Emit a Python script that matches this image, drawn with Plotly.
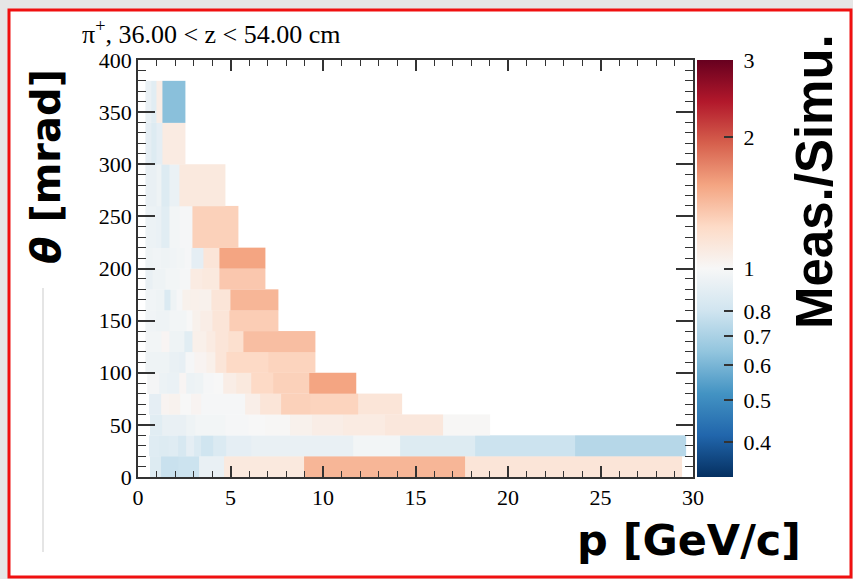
import numpy as np
import plotly.graph_objects as go

# ---------------- data ----------------
theta_edges = [0, 20, 40, 60, 80, 100, 120, 140, 160, 180, 200, 220, 260, 300, 340, 380]

p_edges_000_020 = [0.65, 1.25, 2.15, 3.3, 4.65, 8.95, 17.7, 29.4]
ratio_000_020 = [0.86, 0.78, 0.79, 0.92, 1.12, 1.45, 1.15]

p_edges_020_040 = [0.6, 1.15, 1.6, 2.15, 2.6, 3.05, 3.4, 4.05, 4.75, 6.1, 8.2, 11.6, 14.15, 18.2, 23.6, 29.65]
ratio_020_040 = [0.87, 0.86, 0.87, 0.83, 0.9, 0.85, 0.8, 0.85, 0.9, 0.92, 0.92, 0.97, 0.86, 0.79, 0.73]

p_edges_040_060 = [0.65, 1.3, 2.6, 3.1, 4.7, 5.95, 6.85, 8.2, 9.4, 11.1, 13.35, 16.5, 19.05]
ratio_040_060 = [0.88, 0.92, 0.95, 0.97, 0.99, 1.0, 1.01, 1.05, 1.08, 1.1, 1.13, 1.01]

p_edges_060_080 = [0.6, 1.25, 1.7, 2.25, 2.85, 3.4, 4.6, 5.8, 6.6, 7.75, 9.3, 11.9, 14.3]
ratio_060_080 = [0.9, 1.03, 1.04, 1.0, 1.03, 0.99, 0.99, 1.07, 1.15, 1.3, 1.28, 1.15]

p_edges_080_100 = [0.5, 1.15, 1.6, 2.25, 2.6, 3.05, 3.5, 4.05, 4.6, 5.3, 6.1, 7.3, 9.25, 11.8]
ratio_080_100 = [0.98, 0.94, 0.93, 1.02, 0.94, 0.95, 0.99, 1.0, 1.08, 1.12, 1.25, 1.3, 1.55]

p_edges_100_120 = [0.4, 1.0, 1.7, 2.25, 2.55, 3.05, 3.7, 4.2, 4.8, 5.7, 7.05, 9.6]
ratio_100_120 = [0.95, 0.95, 0.92, 0.91, 0.99, 1.03, 1.06, 1.15, 1.25, 1.25, 1.28]

p_edges_120_140 = [0.4, 1.25, 1.7, 2.5, 2.95, 3.7, 4.2, 4.9, 5.7, 9.6]
ratio_120_140 = [0.97, 1.02, 0.95, 0.88, 1.06, 1.1, 1.15, 1.2, 1.4]

p_edges_140_160 = [0.4, 1.0, 1.7, 2.6, 2.95, 3.35, 4.0, 4.95, 7.6]
ratio_140_160 = [0.96, 0.95, 0.97, 1.0, 1.05, 1.08, 1.15, 1.32]

p_edges_160_180 = [0.4, 1.0, 1.4, 1.75, 2.05, 2.4, 2.85, 3.3, 3.95, 5.0, 7.6]
ratio_160_180 = [0.96, 0.95, 0.85, 0.95, 0.99, 1.05, 1.06, 1.05, 1.15, 1.45]

p_edges_180_200 = [0.4, 0.8, 1.5, 2.25, 2.85, 3.5, 4.4, 6.9]
ratio_180_200 = [0.92, 0.95, 0.97, 0.99, 1.1, 1.12, 1.35]

p_edges_200_220 = [0.4, 0.8, 1.25, 1.7, 2.05, 2.5, 2.9, 3.55, 4.4, 6.9]
ratio_200_220 = [0.95, 0.96, 0.95, 0.96, 0.97, 0.99, 0.9, 1.15, 1.55]

p_edges_220_260 = [0.4, 1.0, 1.25, 1.7, 2.25, 2.95, 5.45]
ratio_220_260 = [0.94, 0.93, 0.88, 0.97, 0.99, 1.3]

p_edges_260_300 = [0.4, 1.0, 1.25, 1.7, 2.25, 4.75]
ratio_260_300 = [0.92, 0.95, 0.86, 0.93, 1.12]

p_edges_300_340 = [0.4, 0.7, 1.0, 1.3, 2.55]
ratio_300_340 = [0.9, 0.86, 0.9, 1.1]

p_edges_340_380 = [0.4, 0.7, 1.0, 1.3, 2.55]
ratio_340_380 = [0.93, 0.88, 1.08, 0.63]

row_p_edges = [p_edges_000_020, p_edges_020_040, p_edges_040_060, p_edges_060_080,
               p_edges_080_100, p_edges_100_120, p_edges_120_140, p_edges_140_160,
               p_edges_160_180, p_edges_180_200, p_edges_200_220, p_edges_220_260,
               p_edges_260_300, p_edges_300_340, p_edges_340_380]
row_ratios = [ratio_000_020, ratio_020_040, ratio_040_060, ratio_060_080,
              ratio_080_100, ratio_100_120, ratio_120_140, ratio_140_160,
              ratio_160_180, ratio_180_200, ratio_200_220, ratio_220_260,
              ratio_260_300, ratio_300_340, ratio_340_380]

cbar_ticks = [0.4, 0.5, 0.6, 0.7, 0.8, 1, 2, 3]
cbar_labels = ["0.4", "0.5", "0.6", "0.7", "0.8", "1", "2", "3"]
x_ticks = [0, 5, 10, 15, 20, 25, 30]
y_ticks = [0, 50, 100, 150, 200, 250, 300, 350, 400]

# ---------------- figure ----------------
rdbu_r = ['rgb(5,48,97)', 'rgb(33,102,172)', 'rgb(67,147,195)', 'rgb(146,197,222)',
          'rgb(209,229,240)', 'rgb(247,247,247)', 'rgb(253,219,199)', 'rgb(244,165,130)',
          'rgb(214,96,77)', 'rgb(178,24,43)', 'rgb(103,0,31)']
colorscale = [[i / (len(rdbu_r) - 1), c] for i, c in enumerate(rdbu_r)]

fig = go.Figure()
for i, (pe, rv) in enumerate(zip(row_p_edges, row_ratios)):
    assert len(pe) == len(rv) + 1, i
    fig.add_trace(go.Heatmap(
        x=pe, y=[theta_edges[i], theta_edges[i + 1]],
        z=[list(np.log10(rv))], coloraxis="coloraxis",
        customdata=[rv], hovertemplate="p=%{x}<br>θ=%{y}<br>ratio=%{customdata:.2f}<extra></extra>"))

W, H = 853, 579
L, R, T, B = 138, 160, 60, 102
pw, ph = W - L - R, H - T - B

def px(x):
    return (x - L) / pw

def py(y):
    return (H - B - y) / ph

serif = "Liberation Serif"
sans_b = "DejaVu Sans"
lm = np.log10(3)
nb = "\u00a0"

fig.update_layout(
    width=W, height=H,
    margin=dict(l=L, r=R, t=T, b=B),
    paper_bgcolor="#e6e6e6",
    plot_bgcolor="white",
    coloraxis=dict(
        colorscale=colorscale, cmin=-lm, cmax=lm,
        colorbar=dict(
            x=px(697), xanchor="left", xpad=0, ypad=0,
            y=0.5, yanchor="middle", len=1, lenmode="fraction",
            thickness=36, thicknessmode="pixels",
            outlinewidth=0,
            tickvals=list(np.log10(cbar_ticks)), ticktext=[nb + t for t in cbar_labels],
            ticks="inside", ticklen=9, tickwidth=1.5, tickcolor="#333",
            tickfont=dict(family=serif, size=22, color="black"),
        ),
    ),
    xaxis=dict(
        range=[0, 30], tickvals=x_ticks, ticks="inside", ticklen=11, tickwidth=1.5,
        tickcolor="#333", showline=True, linecolor="#333", linewidth=1.5,
        mirror="ticks", showgrid=False, zeroline=False,
        minor=dict(dtick=1, ticks="inside", ticklen=6, tickwidth=1.2, tickcolor="#333"),
        tickfont=dict(family=serif, size=22, color="black"),
    ),
    yaxis=dict(
        range=[0, 400], tickvals=y_ticks, ticks="inside", ticklen=17, tickwidth=1.5,
        tickcolor="#333", showline=True, linecolor="#333", linewidth=1.5,
        mirror="ticks", showgrid=False, zeroline=False,
        minor=dict(dtick=10, ticks="inside", ticklen=8, tickwidth=1.2, tickcolor="#333"),
        tickfont=dict(family=serif, size=22, color="black"),
    ),
    shapes=[
        dict(type="rect", xref="paper", yref="paper", x0=px(9), x1=px(851), y0=py(577), y1=py(10),
             line=dict(color="#f01010", width=3), fillcolor="white", layer="below"),
        dict(type="line", xref="paper", yref="paper", x0=px(43), x1=px(43), y0=py(288), y1=py(552),
             line=dict(color="#dddddd", width=1.5), layer="below"),
    ],
    annotations=[
        dict(text="π<sup>+</sup>, 36.00 < z < 54.00 cm", xref="paper", yref="paper",
             x=px(80), y=py(33), xanchor="left", yanchor="middle", showarrow=False,
             font=dict(family=serif, size=26, color="black")),
        dict(text="<b><i>θ</i> [mrad]</b>", xref="paper", yref="paper",
             x=px(46), y=py(167), xanchor="center", yanchor="middle", textangle=-90,
             showarrow=False, font=dict(family=sans_b, size=40, color="black")),
        dict(text="<b>p [GeV/c]</b>", xref="paper", yref="paper",
             x=px(689), y=py(540), xanchor="center", yanchor="middle", showarrow=False,
             font=dict(family=sans_b, size=43, color="black")),
        dict(text="<b>Meas./Simu.</b>", xref="paper", yref="paper",
             x=px(814), y=py(182), xanchor="center", yanchor="middle", textangle=-90,
             showarrow=False, font=dict(family="Liberation Sans", size=51, color="black")),
    ],
)

fig.write_html("out.html")
